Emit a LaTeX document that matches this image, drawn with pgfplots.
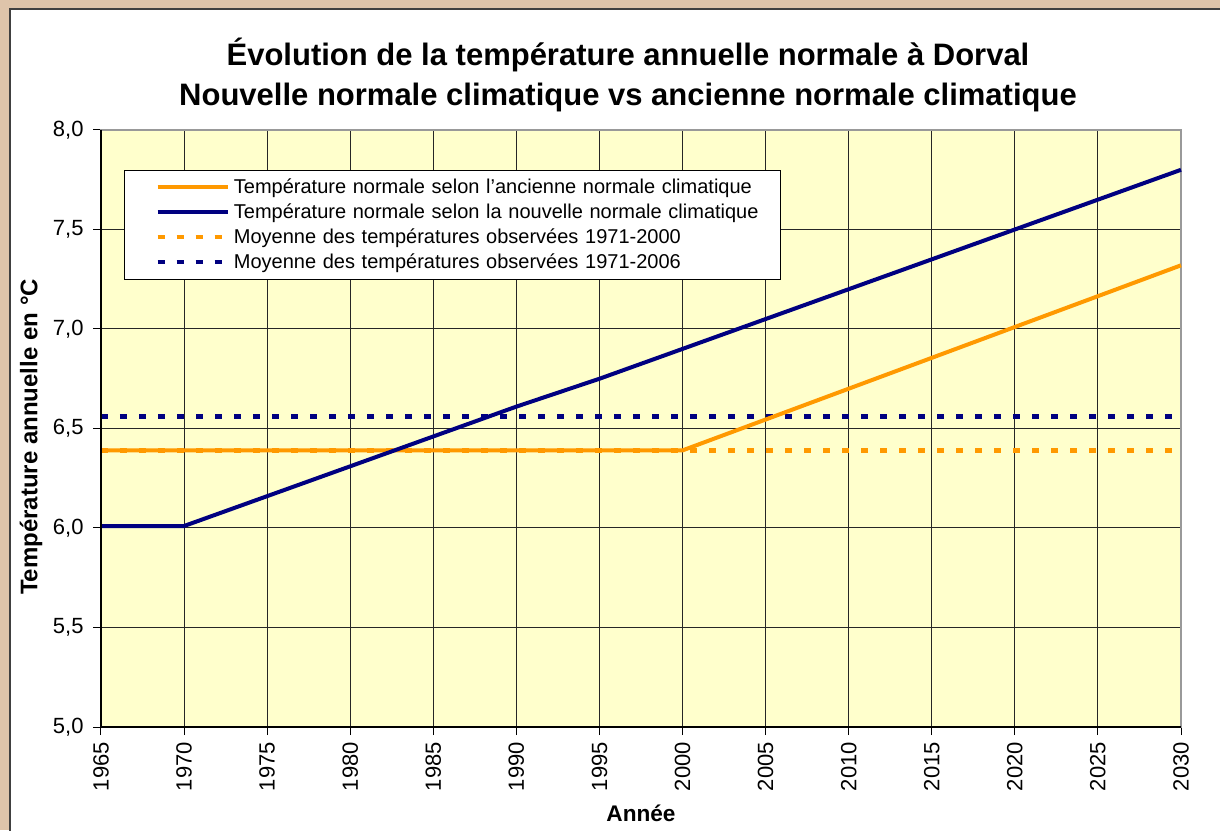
\documentclass[border=0pt]{standalone}
\usepackage{fontspec}
\setmainfont{Liberation Sans}
\usepackage{pgfplots}
\pgfplotsset{compat=1.18}
\definecolor{xlorange}{HTML}{FF9900}
\definecolor{xlnavy}{HTML}{000080}
\definecolor{xlbg}{HTML}{FFFFCC}
\definecolor{outerbg}{RGB}{222,196,170}
\begin{document}
\begin{tikzpicture}[x=1pt,y=1pt]
\fill[outerbg] (-50.5,-51.5) rectangle (559.5,363.5);
\useasboundingbox (-50.5,-51.5) rectangle (559.5,363.5);
\fill[white] (-45.5,-52) rectangle (560,359);
\draw[black!75,line width=0.6pt] (-45.5,-52) -- (-45.5,359) -- (560,359);
\begin{axis}[
  at={(0,0)}, anchor=south west,
  scale only axis, width=540pt, height=298.5pt,
  xmin=1965, xmax=2030, ymin=5, ymax=8,
  xtick={1965,1970,...,2030},
  ytick={5,5.5,...,8},
  axis background/.style={fill=xlbg},
  grid=major,
  major grid style={black!85, line width=0.5pt},
  axis line style={black!40, line width=0.6pt},
  tick align=outside, major tick length=4pt,
  tick style={black, line width=0.5pt},
  xtick pos=bottom, ytick pos=left,
  /pgf/number format/assume math mode=true,
  xticklabel style={font=\fontsize{11}{13}\selectfont, rotate=90, anchor=east, /pgf/number format/1000 sep={}},
  yticklabel style={font=\fontsize{11}{13}\selectfont, xshift=-1.2pt, /pgf/number format/.cd, fixed, fixed zerofill, precision=1, use comma},
  legend style={at={(rel axis cs:0.0213,0.933)}, anchor=north west, draw=black, line width=0.5pt, fill=white,
    font=\fontsize{10}{12}\selectfont, inner xsep=3.5pt, inner ysep=2pt, row sep=-0.4pt,
    text width=268pt},
  legend cell align=left,
  legend image code/.code={\path (-12pt,0pt) (0pt,0pt); \draw[#1] (0pt,0pt) -- (35pt,0pt);},
  clip=false,
]
\addplot[xlorange, line width=2.2pt, dash pattern=on 3.5pt off 6pt, forget plot] coordinates {(1965,6.39) (2030,6.39)};
\addplot[xlnavy, line width=2.2pt, dash pattern=on 3.5pt off 6pt, forget plot] coordinates {(1965,6.56) (2030,6.56)};
\addplot[xlorange, line width=2pt] coordinates {
(1965,6.39) (1970,6.39) (1975,6.39) (1980,6.39) (1985,6.39) (1990,6.39) (1995,6.39) (2000,6.39)
(2005,6.545) (2010,6.70) (2015,6.855) (2020,7.01) (2025,7.165) (2030,7.32)};
\addlegendentry{Température normale selon l'ancienne normale climatique}
\addplot[xlnavy, line width=2pt] coordinates {
(1965,6.01) (1970,6.01) (1975,6.16) (1980,6.31) (1985,6.46) (1990,6.61) (1995,6.75) (2000,6.90)
(2005,7.05) (2010,7.20) (2015,7.35) (2020,7.50) (2025,7.65) (2030,7.80)};
\addlegendentry{Température normale selon la nouvelle normale climatique}
\addlegendimage{xlorange, line width=2.2pt, dash pattern=on 3.5pt off 6pt}
\addlegendentry{Moyenne des températures observées 1971-2000}
\addlegendimage{xlnavy, line width=2.2pt, dash pattern=on 3.5pt off 6pt}
\addlegendentry{Moyenne des températures observées 1971-2006}
\draw[black, line width=0.6pt] (rel axis cs:0,1) -- (rel axis cs:0,0) -- (rel axis cs:1,0);
\end{axis}
\node[font=\bfseries\fontsize{15.5}{19}\selectfont, align=center] at (263.5,326) {Évolution de la température annuelle normale à Dorval\\[1pt]Nouvelle normale climatique vs ancienne normale climatique};
\node[font=\bfseries\fontsize{12}{14}\selectfont, rotate=90] at (-35,145) {Température annuelle en °C};
\node[font=\bfseries\fontsize{11.3}{13}\selectfont] at (270,-43) {Année};
\end{tikzpicture}
\end{document}
